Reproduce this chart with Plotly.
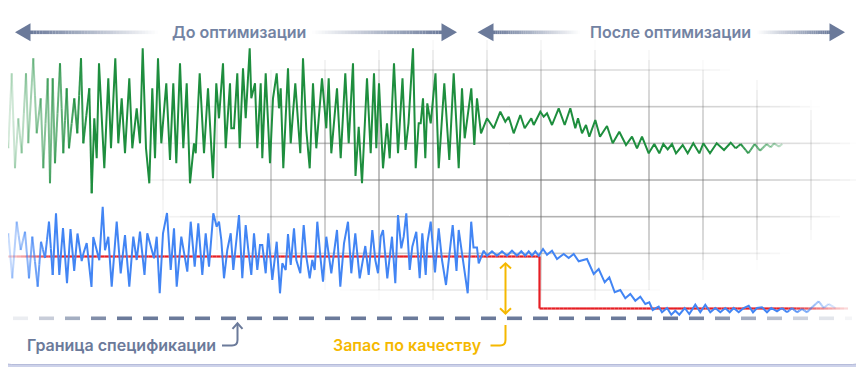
import math
import plotly.graph_objects as go

# ---------------- data ----------------
# time position along the run, signal level (axis drawn reversed)
green_t = [2, 4, 8.3, 11.7, 15, 18.3, 21.7, 26, 28.3, 33.3, 36.7, 40.7, 43.3, 47.7, 50, 52.7, 55, 60, 63.3, 66.7, 69,
           74.3, 77.3, 81, 83.3, 89.3, 91.7, 94.3, 96.7, 99, 104.3, 108.3, 111, 115.3, 118.3, 121.7, 125, 129.3, 132.3,
           136.7, 140, 142.7, 146, 149.3, 152.3, 155, 158, 161.3, 166.3, 170, 173.3, 176.3, 180, 183.3, 186.7, 190,
           194, 195.7, 199.7, 204, 208, 213, 216.3, 219, 223, 225.7, 230, 231.3, 234, 237.3, 239.7, 243, 245.7, 249.7,
           251.3, 255, 257.3, 260.7, 262.3, 265.7, 270, 273, 276.7, 279, 280.7, 283.3, 288, 290.7, 295.3, 300.3, 303,
           306.3, 309.7, 313, 316.3, 322, 326.3, 328.7, 331.3, 337, 340.7, 345.3, 348.7, 353, 355.5, 358.7, 362, 367,
           370.7, 374, 376.3, 379, 383, 387, 389.7, 394, 398, 402.5, 405.5, 408.5, 413, 415.7, 418.7, 420.7, 423,
           425.3, 427.3, 430.7, 435.5, 438.7, 444.3, 449.3, 453.7, 458.7, 462, 464.7, 471.3, 474.3, 477, 481,
           487, 493.7, 500.3, 505.3, 508.7, 513.7, 520.3, 524.7, 531.3, 533.7, 540.3, 543.7, 547, 552, 558.7, 564.7,
           570.3, 575.3, 578, 582, 586, 589.3, 595.3, 600, 607, 612.7, 619.3, 626, 632, 637, 642, 648.7, 654.3, 659.3,
           663.3, 667.7, 672, 676, 682.7, 687.7, 693.3, 699.3, 703.3, 710, 716.7, 724, 730.7, 735.7, 740.7, 748.3,
           754.7, 760, 766.7, 770.7, 774, 779, 782.3]
green_v = [118.3, 118.3, 148.3, 73.3, 168.3, 118.3, 153.3, 73.3, 143.3, 58.3, 133.3, 98.3, 168.3, 78.3, 183.3, 78.3,
           163.3, 63.3, 153.3, 88.3, 148.3, 98.3, 133.3, 58.3, 143.3, 88.3, 193.3, 118.3, 158.3, 63.3, 168.3, 78.3,
           148.3, 58.3, 143.3, 98.3, 153.3, 78.3, 148.3, 108.3, 143.3, 48.3, 148.3, 183.3, 88.3, 158.3, 58.3, 143.3,
           83.3, 160, 83.3, 163.3, 63.3, 148.3, 83.3, 183.3, 143.3, 153.3, 73.3, 153.3, 88.3, 178.3, 83.3, 118.3, 63.3,
           148.3, 83.3, 128.3, 128.3, 73.3, 148.3, 68.3, 118.3, 48.3, 98.3, 83.3, 148.3, 83.3, 158.3, 73.3, 163.3, 98.3,
           73.3, 108.3, 88.3, 168.3, 68.3, 143.3, 83.3, 153.3, 58.3, 130, 168.3, 83.3, 148.3, 78.3, 128.3, 78.3, 153.3,
           88.3, 158.3, 73.3, 143.3, 63.3, 176, 126.7, 183.3, 78.3, 153.3, 73.3, 148.3, 83.3, 168.3, 123.3, 158.3, 63.3,
           153.3, 78.3, 150, 123.3, 48.3, 168.3, 123.3, 123.3, 98.3, 158.3, 103.3, 123.3, 73.3, 168.3, 83.3, 160, 73.3,
           168.3, 88.3, 138.3, 88.3, 145, 98.3, 133.3,
           118.3, 128.3, 111.7, 121.7, 116.7, 133.3, 115, 128.3, 118.3, 125, 111.7, 116.7, 113.3, 125, 108.3, 125,
           108.3, 128.3, 118.3, 133.3, 125, 136.7, 120, 136.7, 126, 143.3, 131.7, 145, 136.7, 148.3, 136.7, 153.3, 144,
           153.3, 144, 149.3, 144, 153.3, 145, 153.3, 143.3, 153.3, 143.3, 153.3, 143.3, 150, 142.7, 148.3, 144, 153.3,
           144, 150.7, 144, 147.3, 143.3, 146.7, 144]

blue_t = [4, 8.3, 12.3, 16.7, 20.7, 25, 29, 32.3, 37.7, 41, 45, 49, 52.7, 56, 59.3, 63, 67, 70.5, 74.2, 77.5, 81.7,
          83.5, 86.7, 89.2, 91.5, 93.3, 96.7, 99.3, 102.7, 105, 108.3, 111.7, 116.7, 120.7, 125, 129.3, 133.3, 136.7,
          140, 144.5, 147.3, 150.7, 154, 156.7, 159.7, 163, 167, 170.7, 174, 176.7, 181.3, 187.3, 190.7, 194.7, 198.3,
          202.3, 205.7, 209, 213.3, 216.7, 219, 221.3, 224, 227.3, 230.7, 233.3, 239, 242.3, 245.7, 248.3, 251.3, 254,
          257.3, 260, 262.3, 265.7, 268.3, 272.3, 276.7, 280, 282.3, 285.7, 288, 290.7, 294, 296.3, 300.3, 303.7,
          306.3, 309.7, 312.3, 314.7, 317.3, 320.7, 323, 326.3, 331.3, 337, 340.3, 344, 348, 351.3, 355.3, 359.7,
          362.3, 365.3, 368.7, 372.3, 375.3, 378, 380.7, 383, 387.3, 392, 395.3, 398, 401.3, 403.7, 406.3, 409.7,
          412.3, 416.3, 419.7, 422.3, 425.7, 427.3, 430.7, 435, 438.7, 442, 446, 449.3, 452.7, 456.5, 458.7, 462,
          464.7, 467.7, 471.2, 473.5, 477, 478.7,
          483.7, 487, 492, 497, 502, 507, 512, 517, 521.3, 525.3, 528.7, 532, 535.3, 538.7, 543, 547, 552, 557, 563.7,
          568.7, 573.7, 578.7, 587, 593.7, 598.7, 604.7, 609.3, 614.7, 620.3, 625.3, 630.3, 635.3, 640.3, 645.3, 649.3,
          652.7, 658.7, 662, 667, 671.3, 675.3, 679.3, 684.7, 689.3, 695.3, 700.3, 705.3, 710.3, 715.3, 720.3, 725.3,
          729.7, 733.7, 738.7, 743.7, 748.7, 753, 757, 762, 767, 771.3, 777, 782, 787, 792, 797, 802, 807, 812.7,
          818.7, 823.7, 828.7, 835.3]
blue_v = [251.7, 233.3, 278.3, 221.7, 250, 231.7, 278.3, 236.7, 286.7, 241.7, 258, 221.7, 275, 213.3, 275, 228, 283.3,
          229, 271, 233.5, 261, 253.3, 243, 269.5, 287, 237, 251.7, 260.3, 206.7, 250.3, 236.7, 286.7, 221.7, 273.3,
          235, 286.7, 236.7, 260, 231.7, 275, 233.3, 246.7, 258.3, 236.7, 293.3, 233.3, 213, 270, 228.3, 286.7, 236.7,
          271.7, 221.7, 266.7, 223.3, 275, 233.3, 266.7, 213.3, 226.7, 221.7, 240, 278.3, 250, 233.3, 270, 215, 278.3,
          225, 250, 275, 233.3, 270, 245, 245, 273.3, 233.3, 280, 241.7, 293.3, 263.3, 270, 234, 265, 228.3, 260,
          273.3, 225, 256.7, 278.3, 260, 270, 221.7, 260, 281.7, 236.7, 273.3, 230, 286.7, 243.3, 221.7, 273.3, 233.3,
          278.3, 261.7, 246, 275, 230, 260, 273.3, 236.7, 230, 278.3, 236.7, 283.3, 215, 248.3, 236.7, 213.3, 270,
          246.7, 231.7, 278.3, 233.3, 275, 243.3, 221.7, 272.5, 228.3, 260, 285, 253.3, 225, 271, 230, 253.3, 273.3,
          293.3, 221.7, 247.5, 247.5, 263.3,
          250.7, 255.7, 251.3, 255.7, 251.3, 255.7, 250.7, 255.7, 251.3, 255.7, 251.3, 255.7, 251.3, 255.7, 249,
          254.7, 250.7, 259, 254, 258, 254, 261.3, 259, 274, 269, 282.3, 277.3, 292.3, 290, 298.3, 294, 300.7, 296.7,
          304, 302.3, 310, 306.7, 312.3, 308, 314.7, 310.7, 314.7, 308, 314, 304.7, 312.3, 304.7, 312.3, 308, 312.3,
          308, 312.3, 308, 312.3, 308, 305.7, 312.3, 308, 307.3, 312.3, 308, 311.3, 308, 312.3, 308, 312.3, 309,
          312.3, 306.7, 301.3, 308, 304, 308]

# quality target (step line) and specification limit
target_t = [5, 539.5, 539.5, 848]
target_v = [256.5, 256.5, 308.5, 308.5]
spec_limit = 318.3
spec_t = [13, 852]

label_before = "До оптимизации"
label_after = "После оптимизации"
label_spec = "Граница спецификации"
label_margin = "Запас по качеству"

# ---------------- styles ----------------
GREEN = (30, 142, 62)
BLUE = (66, 133, 244)
RED = (230, 30, 36)
SLATE = (107, 122, 154)
AMBER = "#f5b800"
FONT = "Inter"

W, H = 864, 367
OFF = 8  # page body margin: the figure is drawn 8px in from the window corner

fig = go.Figure()


def ramp(x, a0, a1, b0, b1, lo):
    a = 1.0
    if x < a1:
        a = lo + (1 - lo) * max(0.0, min(1.0, (x - a0) / (a1 - a0)))
    if x > b0:
        a = min(a, lo + (1 - lo) * max(0.0, min(1.0, (b1 - x) / (b1 - b0))))
    return a


def rgba(c, a):
    return f"rgba({c[0]},{c[1]},{c[2]},{a:.3f})"


def add_faded(xs, ys, col, width, fade, step=3.0):
    run_x, run_y = [], []

    def flush():
        if len(run_x) > 1:
            fig.add_trace(go.Scatter(x=list(run_x), y=list(run_y), mode="lines",
                                     line=dict(color=rgba(col, 1), width=width),
                                     hoverinfo="skip", showlegend=False))
        run_x.clear(); run_y.clear()

    for i in range(len(xs) - 1):
        x0, y0, x1, y1 = xs[i], ys[i], xs[i + 1], ys[i + 1]
        if fade(x0) >= 1 and fade(x1) >= 1:
            if not run_x:
                run_x.append(x0); run_y.append(y0)
            run_x.append(x1); run_y.append(y1)
        else:
            flush()
            n = max(1, int(math.ceil(abs(x1 - x0) / step)))
            for k in range(n):
                u0, u1 = k / n, (k + 1) / n
                sx0, sx1 = x0 + (x1 - x0) * u0, x0 + (x1 - x0) * u1
                sy0, sy1 = y0 + (y1 - y0) * u0, y0 + (y1 - y0) * u1
                a = fade((sx0 + sx1) / 2)
                fig.add_trace(go.Scatter(x=[sx0, sx1], y=[sy0, sy1], mode="lines",
                                         line=dict(color=rgba(col, a), width=width),
                                         hoverinfo="skip", showlegend=False))
    flush()


shapes = []
# card
r = 9
x0c, y0c, x1c, y1c = 2.5, 2.5, 861.5, 364.5
card = (f"M {x0c + r} {y0c} L {x1c - r} {y0c} Q {x1c} {y0c} {x1c} {y0c + r} L {x1c} {y1c - r} "
        f"Q {x1c} {y1c} {x1c - r} {y1c} L {x0c + r} {y1c} Q {x0c} {y1c} {x0c} {y1c - r} "
        f"L {x0c} {y0c + r} Q {x0c} {y0c} {x0c + r} {y0c} Z")
shapes.append(dict(type="path", path=card, xref="x", yref="y", fillcolor="white",
                   line=dict(color="rgba(150,158,200,0.6)", width=1), layer="below"))


# faded grid
def grid_alpha(x, y):
    d = ((x - 500) / 365) ** 2 + ((y - 172) / 132) ** 2
    return 0.6 * max(0.0, 1 - d) ** 0.8


gx = [163 + 54 * k for k in range(13)]
gy = [70 + 36.67 * j for j in range(7)]
seg = 10
for x in gx:
    y = 30
    while y < 330:
        a = grid_alpha(x, y + seg / 2)
        if a > 0.01:
            shapes.append(dict(type="line", xref="x", yref="y", x0=x, x1=x, y0=y, y1=y + seg,
                               line=dict(color=f"rgba(110,110,110,{a:.3f})", width=1.6), layer="below"))
        y += seg
for y in gy:
    x = 120
    while x < 860:
        a = grid_alpha(x + seg / 2, y)
        if a > 0.01:
            shapes.append(dict(type="line", xref="x", yref="y", x0=x, x1=x + seg, y0=y, y1=y,
                               line=dict(color=f"rgba(110,110,110,{a:.3f})", width=1.6), layer="below"))
        x += seg

# dashed specification limit with faded ends
dash, gap = 15, 11
s = spec_t[0]
while s < spec_t[1]:
    e = min(s + dash, spec_t[1])
    a = ramp((s + e) / 2, 10, 115, 680, 855, 0.04)
    shapes.append(dict(type="line", xref="x", yref="y", x0=s, x1=e, y0=spec_limit, y1=spec_limit,
                       line=dict(color=rgba(SLATE, a), width=3.6)))
    s += dash + gap

# data lines
add_faded(target_t, target_v, RED, 2.2, lambda x: ramp(x, 0, 60, 790, 852, 0.08), step=4)
add_faded(blue_t, blue_v, BLUE, 2.0, lambda x: ramp(x, -2, 50, 785, 842, 0.08))
add_faded(green_t, green_v, GREEN, 2.0, lambda x: ramp(x, -4, 90, 738, 795, 0.05))


# top arrows with faded shafts
def shaft(xa, xb, y, a_at_a, a_at_b, n=40):
    for k in range(n):
        u0, u1 = k / n, (k + 1) / n
        a = a_at_a + (a_at_b - a_at_a) * (u0 + u1) / 2
        shapes.append(dict(type="line", xref="x", yref="y", x0=xa + (xb - xa) * u0, x1=xa + (xb - xa) * u1,
                           y0=y, y1=y, line=dict(color=rgba(SLATE, max(0, a)), width=3.6)))


def head(base, tip, y, hh=9):
    shapes.append(dict(type="path", xref="x", yref="y",
                       path=f"M {tip} {y} L {base} {y - hh} L {base} {y + hh} Z",
                       fillcolor=rgba(SLATE, 1), line=dict(width=0)))


ya = 32.3
head(30.5, 15, ya); shaft(30, 158, ya, 1, 0)
shaft(312, 442, ya, 0, 1); head(441.5, 457, ya)
head(493.5, 477.5, ya); shaft(493, 580, ya, 1, 0)
shaft(757, 830, ya, 0, 1); head(829.5, 845, ya)

# spec-limit callout connector
shapes.append(dict(type="path", xref="x", yref="y",
                   path="M 222 345.5 L 232 345.5 Q 237.5 345.5 237.5 340 L 237.5 324",
                   line=dict(color=rgba(SLATE, 1), width=2)))
shapes.append(dict(type="path", xref="x", yref="y",
                   path="M 232.5 328.8 L 237.5 323.3 L 242.5 328.8",
                   line=dict(color=rgba(SLATE, 1), width=2)))
# quality margin callout
shapes.append(dict(type="path", xref="x", yref="y",
                   path="M 490.5 345.5 L 500 345.5 Q 505.5 345.5 505.5 340 L 505.5 325",
                   line=dict(color=AMBER, width=2)))
shapes.append(dict(type="line", xref="x", yref="y", x0=505.5, x1=505.5, y0=264, y1=312.5,
                   line=dict(color=AMBER, width=2)))
shapes.append(dict(type="path", xref="x", yref="y",
                   path="M 500 268.5 L 505.5 263.3 L 511 268.5", line=dict(color=AMBER, width=2)))
shapes.append(dict(type="path", xref="x", yref="y",
                   path="M 500 308.3 L 505.5 313.5 L 511 308.3", line=dict(color=AMBER, width=2)))

annotations = [
    dict(x=239, y=32, text=label_before, font=dict(family=FONT, size=16, color="#7383a3", weight=600)),
    dict(x=670, y=32, text=label_after, font=dict(family=FONT, size=16, color="#7383a3", weight=600)),
    dict(x=121, y=345, text=label_spec, font=dict(family=FONT, size=16, color="#6b7a9a", weight=600)),
    dict(x=407, y=345, text=label_margin, font=dict(family=FONT, size=16, color=AMBER, weight=600)),
]
for an in annotations:
    an.update(xref="x", yref="y", showarrow=False, xanchor="center", yanchor="middle")

fig.update_layout(
    width=W - OFF, height=H - OFF, margin=dict(l=0, r=0, t=0, b=0),
    paper_bgcolor="#cdd2ea", plot_bgcolor="rgba(0,0,0,0)",
    xaxis=dict(range=[OFF, W], visible=False, fixedrange=True),
    yaxis=dict(range=[H, OFF], visible=False, fixedrange=True),
    shapes=shapes, annotations=annotations, showlegend=False,
)

fig.write_html("out.html")
